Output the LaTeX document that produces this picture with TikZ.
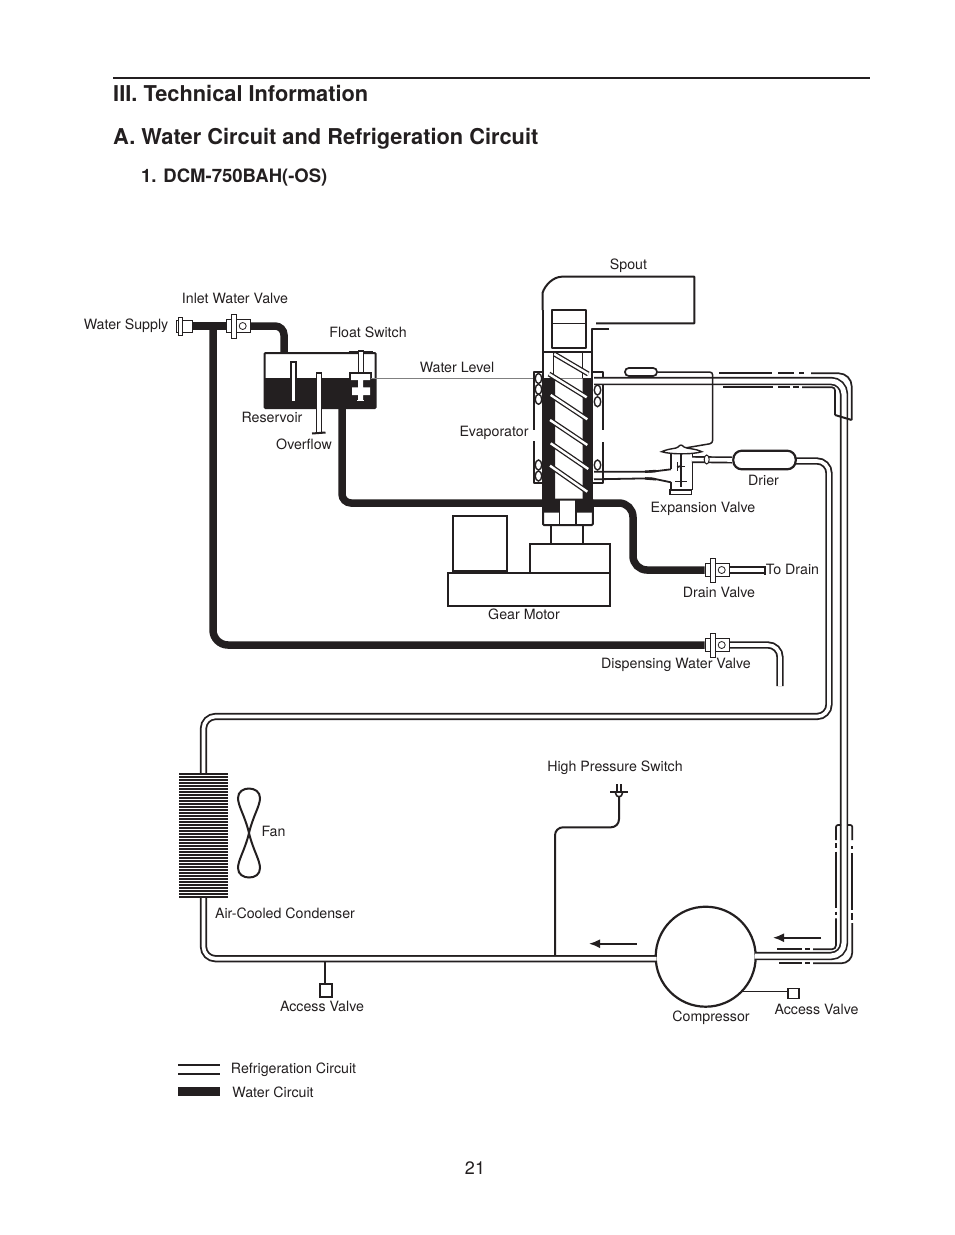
\documentclass[tikz,border=0pt]{standalone}
\usepackage{fontspec}
\setmainfont{TeX Gyre Heros}
\definecolor{ink}{HTML}{231F20}
\usetikzlibrary{arrows.meta,shapes.geometric}
\pgfdeclarelayer{under}
\pgfsetlayers{under,main}
\tikzset{
  lbl/.style={font=\fontsize{14.2}{16}\selectfont,inner sep=0pt,text=ink,text height=10.2pt,text depth=0pt},
  head/.style={font=\fontsize{21.8}{26}\selectfont\bfseries,inner sep=0pt,text=ink,anchor=west,text height=15.6pt,text depth=0pt},
  subhead/.style={font=\fontsize{18.5}{22}\selectfont\bfseries,inner sep=0pt,text=ink,anchor=west,text height=13.2pt,text depth=0pt},
  water/.style={draw=ink,line width=7.5pt,rounded corners=12pt},
  refrig/.style={draw=ink,line width=1.8pt,double=white,double distance=3.6pt,rounded corners=12pt},
  suction/.style={draw=ink,line width=1.7pt,double=white,double distance=5pt,rounded corners=13pt},
  plain/.style={draw=ink,line width=2pt,line join=round},
  sleeve/.style={draw=ink,line width=1.7pt,rounded corners=11pt},
  flange/.style={draw=ink,fill=white,line width=0.9pt,inner sep=0pt,minimum width=#1,rectangle},
  vbody/.style={draw=ink,fill=white,line width=1pt,inner sep=0pt,minimum width=14pt,minimum height=13pt,rectangle},
  vhole/.style={draw=ink,fill=white,line width=0.8pt,inner sep=0pt,minimum size=7pt,circle},
  flight/.style={draw=ink,line width=1.3pt,double=white,double distance=2.4pt},
  bubble/.style={draw=ink,fill=white,line width=1.4pt,inner sep=0pt,ellipse,minimum width=6.5pt,minimum height=10pt},
  box/.style={draw=ink,fill=white,line width=2pt,inner sep=0pt,rectangle},
  flowarrow/.style={draw=ink,line width=1.8pt,-{Latex[length=11pt,width=9pt]}},
}
\newcommand{\mkvalve}[3]{%
  \begin{scope}[shift={(#2,#3)}]
    \node[vbody] (#1) at (12.2,0) {};
    \node[vhole] (#1hole) at (11.7,0) {};
    \node[flange=10pt,minimum height=13pt] (#1f) at (0,0) {};
    \node[flange=4.5pt,minimum height=24pt] (#1g) at (2.7,0) {};
  \end{scope}}
\begin{document}
\begin{tikzpicture}[x=1pt,y=-1pt]
\begin{pgfonlayer}{under}
\useasboundingbox[fill=white] (0,0) rectangle (954,1235);
\end{pgfonlayer}

% heading
\coordinate (ruleL) at (113,78);
\coordinate (ruleR) at (870,78);
\draw[ink,line width=2pt] (ruleL) -- (ruleR);
\node[head] (t1) at (113,94) {III. Technical Information};
\node[head] (t2) at (113,137) {A. Water Circuit and Refrigeration Circuit};
\node[subhead] (t3) at (141,176) {1. DCM-750BAH(-OS)};
\node[font=\fontsize{18}{22}\selectfont,inner sep=0pt,text=ink,text depth=0pt] (pageno) at (475,1168.5) {21};

% --- valves
\node[draw=ink,fill=white,line width=0.9pt,inner sep=0pt,minimum width=16pt,minimum height=12pt] (supply) at (184,326) {};
\node[flange=4pt,minimum height=18pt] (supplyg) at (180,326) {};
\mkvalve{inlet}{231}{326}
\mkvalve{drain}{710}{570}
\mkvalve{disp}{710}{645}

% --- coordinates of pipe routes
\coordinate (branchTop) at (213,326);
\coordinate (waterCornerA) at (213,645);
\coordinate (inletCorner) at (284,326);
\coordinate (resIn) at (284,353);
\coordinate (resOut) at (342,408);
\coordinate (resCorner) at (342,503);
\coordinate (evapL) at (543,503);
\coordinate (evapR) at (592,503);
\coordinate (drainC1) at (633,503);
\coordinate (drainC2) at (633,570);
\coordinate (drainEnd) at (765,570);
\coordinate (dispC) at (780,645);
\coordinate (dispEnd) at (780,686);

% --- water circuit, beneath the valves
\begin{pgfonlayer}{under}
\draw[water] (supply.east) -- (inletf.west);
\draw[water,rounded corners=15pt] (branchTop) -- (waterCornerA) -- (dispf.west);
\draw[water,rounded corners=9pt] (inlet.east) -- (inletCorner) -- (resIn);
\draw[water,rounded corners=9pt] (resOut) -- (resCorner) -- (evapL);
\draw[water,rounded corners=14pt] (evapR) -- (drainC1) -- (drainC2) -- (drainf.west);
\draw[ink,line width=7.2pt] (drain.east) -- (drainEnd);
\draw[white,line width=3.4pt] (drain.east) -- (drainEnd);
\draw[refrig] (disp.east) -- (dispC) -- (dispEnd);
\end{pgfonlayer}
\draw[ink,line width=1.6pt] (765,566) -- (765,574.5);

% --- reservoir
\fill[ink] (264.5,378) rectangle (375.7,408);
\draw[ink,line width=2pt,rounded corners=1pt] (264.5,353) rectangle (375.7,408);
\draw[ink,line width=1.6pt,fill=white] (291,362) rectangle (296,401.5);
\draw[ink,line width=1.6pt,fill=white] (316.5,373) rectangle (321.5,433);
\draw[ink,line width=2pt] (312,433.5) -- (325.5,432.5);
\draw[ink,line width=2pt] (348.5,352) -- (373,352);
\draw[ink,line width=1.6pt,fill=white] (358.5,351) rectangle (363.5,373);
\draw[ink,line width=1.6pt,fill=white] (350,373) rectangle (371,380);
\fill[white] (351,374.3) rectangle (370,380) (358,380) rectangle (363,387.3)
             (352,387.3) rectangle (370,395) (358,395) rectangle (363,400);
\draw[white,line width=1.6pt] (357,400.5) -- (364,400.5);
\draw[gray,line width=0.7pt] (371,378.3) -- (592,378.3);

% --- spout
\draw[plain] (542.5,310) -- (542.5,293) .. controls (545,285) and (553,277) .. (561.7,276.7) -- (694.3,276.7) -- (694.3,323.3) -- (596,323.3);
\draw[plain] (609,329) -- (592.3,329) -- (592.3,500);
\draw[plain] (543.3,310) -- (543.3,500);
\draw[plain] (543.3,351.7) -- (592.3,351.7);
\draw[plain] (552.3,310) rectangle (585.7,347.7);
\draw[ink,line width=1.5pt] (552.3,323.3) -- (585.7,323.3);

% --- evaporator
\draw[ink,line width=1.3pt] (553.5,352) -- (553.5,378) (582.7,352) -- (582.7,378);
\fill[ink] (544,378) rectangle (555,500) (582.7,378) rectangle (592,500);
\draw[plain] (543.3,372) -- (534,372) -- (534,430) (534,441) -- (534,483.3) -- (543.3,483.3);
\draw[plain] (592.3,372) -- (603,372) -- (603,430) (603,442) -- (603,483.3) -- (592.3,483.3);
\foreach \yy/\nm in {378.5/a,389.3/b,399.3/c,465/d,476/e}{\node[bubble] (lb\nm) at (538.5,\yy) {};}
\foreach \yy/\nm in {390/a,401.7/b,465/c}{\node[bubble] (rb\nm) at (597.5,\yy) {};}
\draw[flight] (554.3,354) -- (588.3,374);
\draw[flight] (549,374) -- (586.7,397.3);
\draw[flight] (550.7,395) -- (587.3,419.3);
\draw[flight] (550,420) -- (587.3,445);
\draw[flight] (550.7,443.3) -- (588.3,469);
\draw[flight] (550,465.7) -- (587.3,491.7);

% --- block under evaporator
\draw[ink,line width=2pt,fill=white,rounded corners=1pt] (543,499.5) rectangle (592.8,525);
\fill[ink] (543,500) rectangle (559.3,512.7) (576,500) rectangle (592.8,512.7);
\draw[ink,line width=1.6pt] (559.3,499.5) -- (559.3,525) (576,499.5) -- (576,525);

% --- gear motor
\coordinate (shaftLt) at (551,525);
\coordinate (shaftRt) at (583.3,525);
\draw[plain] (shaftLt) -- (551,543.3) (shaftRt) -- (583.3,543.3);
\node[box,anchor=north west,minimum width=53.4pt,minimum height=55pt] (smallbox) at (452.3,515) {};
\node[box,anchor=north west,minimum width=80pt,minimum height=29pt] (gearup) at (529,543.3) {};
\node[box,anchor=north west,minimum width=161.7pt,minimum height=32.7pt] (gearlo) at (447.3,572.3) {};

% --- refrigeration loop
\node[draw=ink,fill=white,line width=2.2pt,circle,inner sep=0pt,minimum size=100pt] (comp) at (705.7,956.7) {};
\coordinate (compL) at (656.5,958.7);
\coordinate (loopBL) at (203.5,958.7);
\coordinate (condB) at (203.5,898);
\coordinate (condT) at (203.5,773);
\coordinate (loopTL) at (203.5,716.5);
\coordinate (loopTR) at (829,716.5);
\coordinate (loopD) at (829,461);
\coordinate (sucR) at (755,956);
\coordinate (sucBR) at (844,956);
\coordinate (sucTR) at (844,381);
\coordinate (sucL) at (594,381);
\draw[refrig] (compL) -- (loopBL) -- (condB);
\draw[refrig] (condT) -- (loopTL) -- (loopTR) -- (loopD) -- (792,461);
\draw[suction] (sucR) -- (sucBR) -- (sucTR) -- (sucL);

% --- condenser and fan
\foreach \yy in {774,777,...,898}{\draw[ink,line width=2.3pt] (179.3,\yy) -- (228.3,\yy);}
\draw[ink,line width=2pt] (249,833)
  .. controls (245,816) and (238,806) .. (238,798)
  .. controls (238,791.5) and (243.5,788.5) .. (249,788.5)
  .. controls (255,788.5) and (260,792) .. (260,798)
  .. controls (260,806) and (253,816) .. (249,833)
  .. controls (245,850) and (238,860) .. (238,868)
  .. controls (238,874.5) and (243.5,877.5) .. (249,877.5)
  .. controls (255,877.5) and (260,874.5) .. (260,868)
  .. controls (260,860) and (253,850) .. (249,833) -- cycle;

% --- upper sleeve
\draw[ink,line width=1.7pt] (719,373.3) -- (772,373.3) (778,373.3) -- (794,373.3) (799,373.3) -- (804,373.3);
\draw[sleeve,rounded corners=13pt] (811,373.3) -- (851.7,373.3) -- (851.7,420);
\draw[ink,line width=1.7pt] (723,387.3) -- (773,387.3) (778,387.3) -- (790,387.3) (793,387.3) -- (799,387.3);
\draw[sleeve,rounded corners=3pt] (802,387.3) -- (835,387.3) -- (835,415);
\draw[ink,line width=2pt] (835,415) -- (851.7,420);

% --- lower sleeve
\draw[sleeve,rounded corners=2pt] (836,840) -- (836,825) -- (841,825) (847,825) -- (852.3,825) -- (852.3,840);
\draw[ink,line width=1.7pt] (836,843.3) -- (836,848.3) (836,851.7) -- (836,908.3) (836,911.7) -- (836,915);
\draw[ink,line width=1.7pt] (852.3,846) -- (852.3,849) (852.3,853) -- (852.3,910) (852.3,913) -- (852.3,920);
\draw[sleeve,rounded corners=4pt] (836,918.3) -- (836,949.3) -- (813,949.3);
\draw[sleeve] (852.3,923) -- (852.3,963.3) -- (813,963.3);
\draw[ink,line width=1.7pt] (777,949.3) -- (802,949.3) (805,949.3) -- (810,949.3);
\draw[ink,line width=1.7pt] (779,963.3) -- (802,963.3) (805,963.3) -- (810,963.3);

% --- arrows
\coordinate (a1s) at (636.7,943.7); \coordinate (a1e) at (589,943.7);
\coordinate (a2s) at (821,937.7);   \coordinate (a2e) at (773,937.7);
\draw[flowarrow] (a1s) -- (a1e);
\draw[flowarrow] (a2s) -- (a2e);

% --- high pressure switch
\coordinate (hpBase) at (555,955.5);
\coordinate (hpC1) at (555,827.3);
\coordinate (hpC2) at (619,827.3);
\coordinate (hpTop) at (619,796.7);
\draw[ink,line width=2pt,rounded corners=8pt] (hpBase) -- (hpC1) -- (hpC2) -- (hpTop);
\draw[ink,line width=1.8pt] (610,792.3) -- (627.7,792.3) (616.7,784) -- (616.7,792.3) (621,784) -- (621,792.3);
\draw[ink,line width=1.6pt] (615.5,793) .. controls (616,798) and (622,798) .. (622.5,793);

% --- access valves
\node[box,minimum width=11.7pt,minimum height=13.3pt] (acc1) at (325.8,990.7) {};
\coordinate (acc1t) at (325,962);
\draw[ink,line width=1.8pt] (acc1t) -- (acc1.north -| acc1t);
\node[box,line width=1.6pt,minimum width=11pt,minimum height=10pt] (acc2) at (793.3,993.3) {};
\coordinate (acc2s) at (743.3,991.7);
\draw[ink,line width=1pt] (acc2s) -- (acc2.west |- acc2s);

% --- expansion valve
\node[draw=ink,fill=white,line width=1.7pt,rounded corners=3.8pt,inner sep=0pt,minimum width=32pt,minimum height=8pt] (bulb) at (641,372) {};
\coordinate (capC) at (712.7,372);
\coordinate (capB) at (712.7,443.3);
\coordinate (capV) at (685,448);
\draw[ink,line width=1.5pt,rounded corners=3pt] (bulb.east) -- (capC) -- (capB) -- (capV);
\node[draw=ink,fill=white,line width=2.2pt,rounded corners=8.5pt,inner sep=0pt,minimum width=62.4pt,minimum height=18.6pt] (drier) at (764.5,460) {};
\draw[ink,line width=7pt] (drier.west) -- (692,459.5);
\draw[white,line width=3.6pt] (drier.west) -- (692,459.5);
\node[draw=ink,fill=white,line width=1pt,ellipse,inner sep=0pt,minimum width=5pt,minimum height=9pt] (bump) at (706.7,459.5) {};
\draw[ink,line width=1.8pt] (594,471.7) -- (651.7,471.7) -- (671,469.3);
\draw[ink,line width=1.8pt] (594,479.3) -- (651.7,478.3) -- (671,482.3);
\draw[ink,line width=2.4pt] (645,471.7) -- (656,471) (645,478.4) -- (656,479.3);
\draw[ink,line width=1.6pt] (671,453) -- (671,469.3) (671,482.3) -- (671,490) (692.3,453) -- (692.3,456) (692.3,463) -- (692.3,490);
\draw[ink,line width=1.4pt,fill=white] (661.7,451.7) .. controls (670,448) and (676,449) .. (678,447)
  .. controls (680,444.5) and (682,444.5) .. (684,447) .. controls (687,449) and (694,448) .. (701.7,451.7)
  .. controls (694,454.5) and (670,454.5) .. (661.7,451.7) -- cycle;
\draw[ink,line width=1.4pt] (681,454) -- (681,487) (675,481.7) -- (687,481.7);
\draw[ink,line width=1.4pt] (670,490) rectangle (691.7,494.5);
\draw[ink,line width=1pt,-{Stealth[length=3pt,width=3pt]}] (685,466.7) -- (676.7,466.7);
\draw[ink,line width=1pt] (677,462) -- (677,471);

% --- legend
\coordinate (legA) at (178.3,1065); \coordinate (legB) at (220,1065);
\coordinate (legC) at (178.3,1074); \coordinate (legD) at (220,1074);
\coordinate (legE) at (178.3,1091.5); \coordinate (legF) at (220,1091.5);
\draw[ink,line width=2pt] (legA) -- (legB);
\draw[ink,line width=2pt] (legC) -- (legD);
\draw[ink,line width=8.4pt] (legE) -- (legF);

% --- labels
\node[lbl] (l1) at (628.5,264) {Spout};
\node[lbl] (l2) at (235,298) {Inlet Water Valve};
\node[lbl] (l3) at (126,324) {Water Supply};
\node[lbl] (l4) at (368,332) {Float Switch};
\node[lbl] (l5) at (457,367) {Water Level};
\node[lbl] (l6) at (272,417) {Reservoir};
\node[lbl] (l7) at (304,444) {Overflow};
\node[lbl] (l8) at (494,431) {Evaporator};
\node[lbl] (l9) at (763.5,480) {Drier};
\node[lbl] (l10) at (703,507) {Expansion Valve};
\node[lbl] (l11) at (792.5,569) {To Drain};
\node[lbl] (l12) at (719,592) {Drain Valve};
\node[lbl] (l13) at (524,614) {Gear Motor};
\node[lbl] (l14) at (676,663) {Dispensing Water Valve};
\node[lbl] (l15) at (615,766) {High Pressure Switch};
\node[lbl] (l16) at (273.5,831) {Fan};
\node[lbl] (l17) at (285,913) {Air-Cooled Condenser};
\node[lbl] (l18) at (322,1006) {Access Valve};
\node[lbl] (l19) at (711,1016) {Compressor};
\node[lbl] (l20) at (816.5,1009) {Access Valve};
\node[lbl] (l21) at (293.5,1068) {Refrigeration Circuit};
\node[lbl] (l22) at (273,1092) {Water Circuit};
\end{tikzpicture}
\end{document}
